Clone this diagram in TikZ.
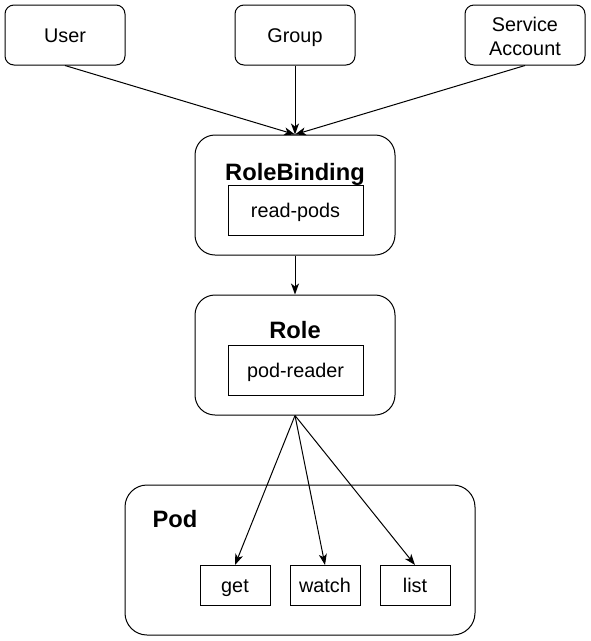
\documentclass[tikz,border=0pt]{standalone}
\usepackage{fontspec}
\setmainfont{Liberation Sans}
\usetikzlibrary{arrows.meta}
\begin{document}
\begin{tikzpicture}[x=1pt,y=-1pt,
  txt/.style={font=\fontsize{19.8}{23.5}\selectfont},
  one/.style={text height=16pt, text depth=2pt},
  ttl/.style={font=\fontsize{23.7}{28}\selectfont\bfseries, inner sep=0pt, anchor=base},
  top/.style={draw, line width=1pt, rounded corners=9pt, minimum width=120pt, minimum height=60pt, inner sep=0pt, txt, align=center},
  big/.style={draw, line width=1pt, rounded corners=20pt, inner sep=0pt},
  inner/.style={draw, line width=1pt, inner sep=0pt, txt, one},
  conn/.style={line width=1pt, -{Stealth[length=11pt,width=8pt,inset=3pt]}}
]
\useasboundingbox (0,0) rectangle (591,641);
\node[top, one] (user) at (65,35) {User};
\node[top, one] (group) at (295,35) {Group};
\node[top] (sa) at (525,35) {};
\node[txt, align=center, inner sep=0pt, anchor=base] (satxt) at (525,55) {Service\\Account};

\node[big, minimum width=200pt, minimum height=120pt] (rb) at (295,195) {};
\node[ttl] (rbt) at (295,180) {RoleBinding};
\node[inner, minimum width=135pt, minimum height=50pt] (rp) at (295.5,210.5) {read-pods};

\node[big, minimum width=200pt, minimum height=120pt] (role) at (295,355) {};
\node[ttl] (rolet) at (295,338.3) {Role};
\node[inner, minimum width=135pt, minimum height=50pt] (pr) at (295.5,370.5) {pod-reader};

\node[big, rounded corners=22pt, minimum width=350pt, minimum height=150pt] (pod) at (300,560) {};
\node[ttl] (podt) at (175,527.7) {Pod};
\node[inner, minimum width=70pt, minimum height=40pt] (get) at (235,585.5) {get};
\node[inner, minimum width=70pt, minimum height=40pt] (watch) at (325,585.5) {watch};
\node[inner, minimum width=70pt, minimum height=40pt] (list) at (415,585.5) {list};

\draw[conn] (user.south) -- (rb.north);
\draw[conn] (group.south) -- (rb.north);
\draw[conn] (sa.south) -- (rb.north);
\draw[conn] (rb.south) -- (role.north);
\draw[conn] (role.south) -- (get.north);
\draw[conn] (role.south) -- (watch.north);
\draw[conn] (role.south) -- (list.north);
\end{tikzpicture}
\end{document}
